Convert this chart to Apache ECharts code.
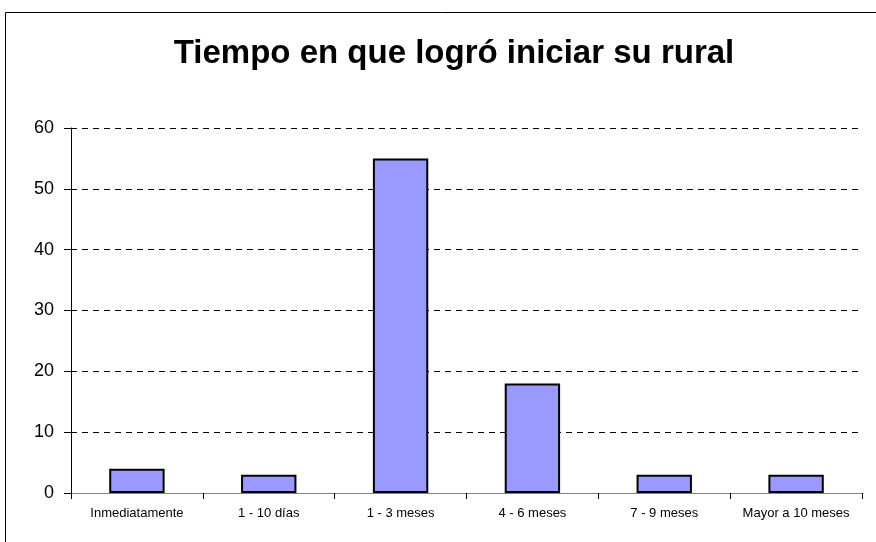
<!DOCTYPE html>
<html>
<head>
<meta charset="utf-8">
<script src="https://cdn.jsdelivr.net/npm/echarts@6/dist/echarts.min.js"></script>
<style>
  html, body { margin: 0; padding: 0; background: #fff; }
  #chart { width: 876px; height: 542px; }
</style>
</head>
<body>
<div id="chart"></div>
<script>
// categorías y valores
const categorias = ['Inmediatamente', '1 - 10 días', '1 - 3 meses', '4 - 6 meses', '7 - 9 meses', 'Mayor a 10 meses'];
const valores = [4, 3, 55, 18, 3, 3];
const titulo = 'Tiempo en que logró iniciar su rural';

const chart = echarts.init(document.getElementById('chart'));

const option = {
    animation: false,
    title: {
        text: titulo,
        left: 449,
        textAlign: 'center',
        top: 32,
        textStyle: {
            fontFamily: 'Liberation Sans, Arial, sans-serif',
            fontSize: 33,
            fontWeight: 'bold',
            color: '#000'
        }
    },
    graphic: [{
        type: 'rect',
        shape: { x: 5.5, y: 12.5, width: 900, height: 600 },
        style: { fill: 'none', stroke: '#000', lineWidth: 1 },
        silent: true
    }],
    grid: {
        left: 71,
        right: 14,
        top: 128,
        bottom: 49
    },
    xAxis: {
        type: 'category',
        data: categorias,
        axisLine: { lineStyle: { color: '#808080', width: 1 } },
        axisTick: { show: true, length: 6, lineStyle: { color: '#000' } },
        axisLabel: {
            color: '#000',
            fontFamily: 'Liberation Sans, Arial, sans-serif',
            fontSize: 13,
            margin: 14,
            interval: 0
        }
    },
    yAxis: {
        type: 'value',
        min: 0,
        max: 60,
        interval: 10,
        axisLine: { show: true, lineStyle: { color: '#000', width: 1 } },
        axisTick: { show: true, length: 7, lineStyle: { color: '#000' } },
        axisLabel: {
            color: '#000',
            fontFamily: 'Liberation Sans, Arial, sans-serif',
            fontSize: 18,
            margin: 17
        },
        splitLine: {
            show: true,
            lineStyle: { color: '#000', type: [6, 5], width: 1 }
        }
    },
    series: [{
        type: 'bar',
        data: valores,
        barWidth: '42%',
        itemStyle: {
            color: '#9999ff',
            borderColor: '#000',
            borderWidth: 2
        }
    }]
};

chart.setOption(option);
</script>
</body>
</html>
